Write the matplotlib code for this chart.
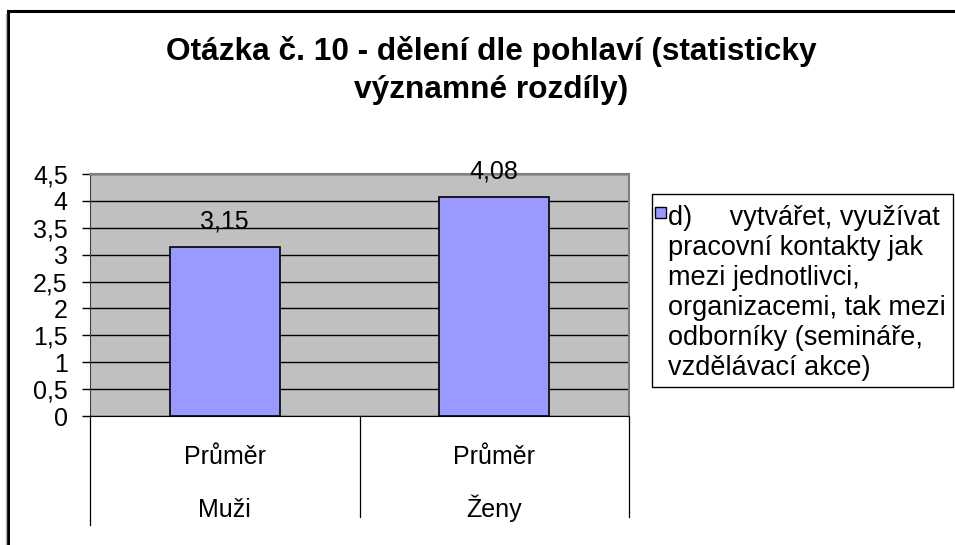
import matplotlib
matplotlib.use("Agg")
import matplotlib.pyplot as plt
from matplotlib.patches import Rectangle
from matplotlib.lines import Line2D
import matplotlib.transforms as mtransforms

plt.rcParams['font.family'] = ['Liberation Sans', 'DejaVu Sans']

# ---- data ----
groups = ["Muži", "Ženy"]
stat_labels = ["Průměr", "Průměr"]
values = [3.15, 4.08]
value_labels = ["3,15", "4,08"]
yticks = [0, 0.5, 1, 1.5, 2, 2.5, 3, 3.5, 4, 4.5]
ytick_labels = ["0", "0,5", "1", "1,5", "2", "2,5", "3", "3,5", "4", "4,5"]
title_lines = ["Otázka č. 10 - dělení dle pohlaví (statisticky", "významné rozdíly)"]
legend_lines = ["d)     vytvářet, využívat", "pracovní kontakty jak", "mezi jednotlivci,",
                "organizacemi, tak mezi", "odborníky (semináře,", "vzdělávací akce)"]

W, H = 955, 545
DPI = 100
fig = plt.figure(figsize=(W / DPI, H / DPI), dpi=DPI)
FS = 18.0
FS_LEG = 19.5

def fx(px):
    return px / W

def fy(py):
    return 1 - py / H

# outer border (extends beyond right/bottom edge)
fig.add_artist(Line2D([fx(8), fx(8)], [fy(11), fy(560)], color='black', lw=2.2,
                      transform=fig.transFigure))
fig.add_artist(Line2D([fx(8), fx(970)], [fy(11), fy(11)], color='black', lw=2.2,
                      transform=fig.transFigure))
fig.add_artist(Line2D([fx(6), fx(6)], [fy(14), fy(560)], color='#b0b0b0', lw=1.0,
                      transform=fig.transFigure))

# axes (plot area)
L, R, T, B = 90, 629, 174, 416
ax = fig.add_axes([fx(L), fy(B), fx(R - L), (B - T) / H])
ax.set_facecolor('#c0c0c0')

x = list(range(len(groups)))
ax.bar(x, values, width=0.41, color='#9999ff', edgecolor='black', linewidth=1.2, zorder=3)
ax.set_xlim(-0.5, len(groups) - 0.5)
ax.set_ylim(0, 4.5)
ax.set_yticks(yticks)
ax.set_yticklabels(ytick_labels, fontsize=FS)
ax.tick_params(axis='y', length=6, width=1, pad=10, color='black')
ax.yaxis.grid(True, color='black', linewidth=1)
ax.set_axisbelow(True)
for s in ['top', 'right']:
    ax.spines[s].set_color('#808080')
    ax.spines[s].set_linewidth(1.5)
ax.spines['left'].set_color('#404040')
ax.spines['bottom'].set_color('black')

# value labels
for xi, v, lab in zip(x, values, value_labels):
    ax.annotate(lab, (xi, v), xytext=(0, 13), textcoords='offset points',
                ha='center', va='baseline', fontsize=FS)

# category axis (two levels)
ax.set_xticks([])
trans = mtransforms.blended_transform_factory(ax.transData, ax.transAxes)
px_per_ax = 1.0 / (B - T)
for xi, s, g in zip(x, stat_labels, groups):
    ax.text(xi, -(464 - B) * px_per_ax, s, transform=trans, ha='center', va='baseline',
            fontsize=FS, clip_on=False)
    ax.text(xi, -(517 - B) * px_per_ax, g, transform=trans, ha='center', va='baseline',
            fontsize=FS, clip_on=False)
for xb, yend in zip([-0.5, 0.5, 1.5], [525, 517, 517]):
    ax.add_line(Line2D([xb, xb], [0, -(yend - B) * px_per_ax], transform=trans,
                       color='black', lw=0.9, clip_on=False))

# title
for yb, line in zip([60, 98], title_lines):
    fig.text(fx(491), fy(yb), line, ha='center', va='baseline', fontsize=22.8,
             fontweight='bold')

# legend (drawn in Excel style)
fig.add_artist(Rectangle((fx(652), fy(387)), fx(953 - 652), (387 - 194) / H,
                         transform=fig.transFigure, facecolor='white', edgecolor='black',
                         lw=1.0))
fig.add_artist(Rectangle((fx(655), fy(218)), fx(11), 11 / H, transform=fig.transFigure,
                         facecolor='#9999ff', edgecolor='black', lw=1.0))
for i, line in enumerate(legend_lines):
    fig.text(fx(668), fy(225 + 30 * i), line, ha='left', va='baseline', fontsize=FS_LEG)

fig.savefig('out.png', dpi=DPI)
